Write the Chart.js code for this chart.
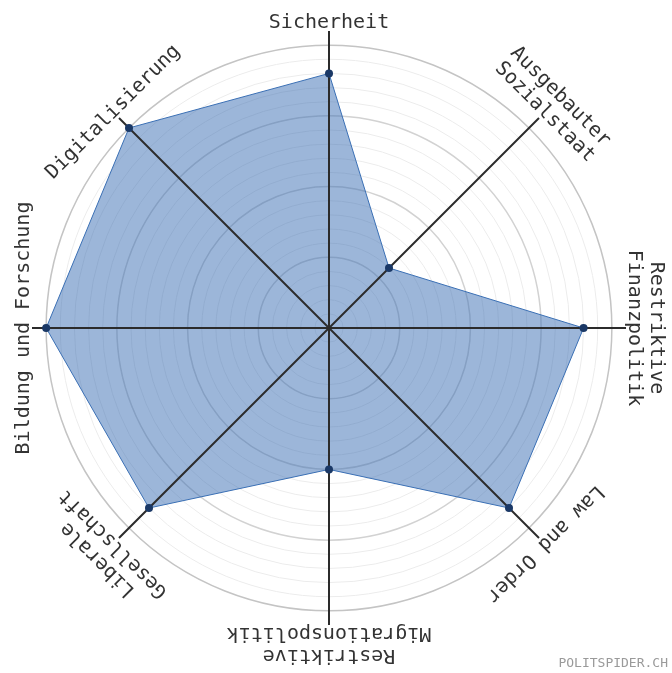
<!DOCTYPE html>
<html>
<head>
<meta charset="utf-8">
<script src="https://cdn.jsdelivr.net/npm/chart.js@4.4.0/dist/chart.umd.min.js"></script>
<style>
  html, body { margin: 0; padding: 0; background: #fff; }
  #wrap { width: 672px; height: 673px; }
</style>
</head>
<body>
<div id="wrap"><canvas id="spider" width="672" height="673"></canvas></div>
<script>
// Achsen (im Uhrzeigersinn ab oben), mehrzeilige Labels als Arrays
const labels = [
    ['Sicherheit'],
    ['Ausgebauter', 'Sozialstaat'],
    ['Restriktive', 'Finanzpolitik'],
    ['Law and Order'],
    ['Restriktive', 'Migrationspolitik'],
    ['Liberale', 'Gesellschaft'],
    ['Bildung und Forschung'],
    ['Digitalisierung']
];

// Werte 0-100
const values = [90, 30, 90, 90, 50, 90, 100, 100];

const maxValue = 100;   // äusserer Kreis
const axisMax = 105;    // Achsenlinien gehen etwas darüber hinaus
const step = 5;

const fontFamily = '"DejaVu Sans Mono", "Liberation Mono", monospace';

// Achsenlinien über die Füllung zeichnen (Filler läuft vorher)
const axisPlugin = {
    id: 'axisLines',
    beforeDatasetsDraw(chart) {
        const scale = chart.scales.r;
        const ctx = chart.ctx;
        ctx.save();
        ctx.strokeStyle = '#2b2b2b';
        ctx.lineWidth = 2;
        for (let i = 0; i < labels.length; i++) {
            const end = scale.getPointPositionForValue(i, axisMax);
            ctx.beginPath();
            ctx.moveTo(scale.xCenter, scale.yCenter);
            ctx.lineTo(end.x, end.y);
            ctx.stroke();
        }
        ctx.restore();
    }
};

// gedrehte Beschriftungen + Wasserzeichen
const labelPlugin = {
    id: 'rotatedLabels',
    afterDraw(chart) {
        const scale = chart.scales.r;
        const ctx = chart.ctx;
        const n = labels.length;
        const dist = scale.getDistanceFromCenterForValue(axisMax) + 3;
        const lineH = 22;
        ctx.save();
        ctx.fillStyle = '#333';
        ctx.font = '20px ' + fontFamily;
        ctx.textAlign = 'center';
        ctx.textBaseline = 'alphabetic';
        for (let i = 0; i < n; i++) {
            const p = scale.getPointPosition(i, dist);
            const ang = i * 2 * Math.PI / n;
            ctx.save();
            ctx.translate(p.x, p.y);
            ctx.rotate(ang);
            const lines = labels[i];
            for (let j = 0; j < lines.length; j++) {
                const off = (lines.length - 1 - j) * lineH;
                ctx.fillText(lines[j], 0, -off);
            }
            ctx.restore();
        }
        // Wasserzeichen
        ctx.fillStyle = '#9a9a9a';
        ctx.font = '13px ' + fontFamily;
        ctx.textAlign = 'right';
        ctx.fillText('POLITSPIDER.CH', 668, 667);
        ctx.restore();
    }
};

const chart = new Chart(document.getElementById('spider'), {
    type: 'radar',
    data: {
        labels: labels.map(l => l.join(' ')),
        datasets: [{
            data: values,
            backgroundColor: 'rgba(58, 110, 180, 0.5)',
            borderColor: '#3a6fb4',
            borderWidth: 1,
            pointRadius: 4,
            pointBackgroundColor: '#1a3866',
            pointBorderColor: '#1a3866',
            pointBorderWidth: 0,
            fill: true
        }]
    },
    options: {
        responsive: false,
        animation: false,
        layout: {
            padding: { left: 32, right: 46, top: 31, bottom: 48 }
        },
        plugins: {
            legend: { display: false },
            tooltip: { enabled: false },
            filler: { drawTime: 'beforeDatasetsDraw' }
        },
        scales: {
            r: {
                min: 0,
                max: axisMax,
                ticks: { display: false, stepSize: step },
                pointLabels: { display: false },
                angleLines: { display: false },
                grid: {
                    circular: true,
                    color: ctx => {
                        const v = ctx.tick.value;
                        if (v > maxValue) return 'rgba(0,0,0,0)';
                        if (v === maxValue) return '#c4c4c4';
                        if (v % 25 === 0) return '#d2d2d2';
                        return '#ececec';
                    },
                    lineWidth: ctx => (ctx.tick.value % 25 === 0 ? 1.5 : 1)
                }
            }
        }
    },
    plugins: [axisPlugin, labelPlugin]
});
</script>
</body>
</html>
